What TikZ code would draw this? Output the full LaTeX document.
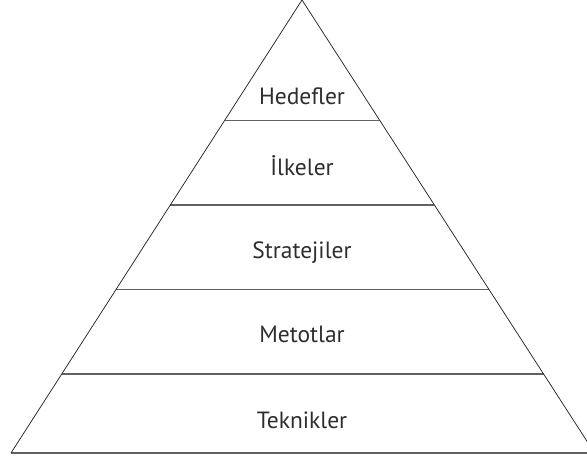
\documentclass[tikz,border=0pt]{standalone}
\usepackage{fontspec}
\setmainfont{PT Sans}
\usetikzlibrary{calc}
\begin{document}
\begin{tikzpicture}[x=1pt,y=1pt,
  side/.style={draw=black!85,line width=0.75pt},
  tier/.style={draw=black!62,line width=1.1pt},
  label/.style={anchor=base,font=\fontsize{23.5}{28}\selectfont,text=black!82,inner sep=0pt}]
\useasboundingbox (0,0) rectangle (587,459);
\clip (0,0) rectangle (587,459);
\coordinate (apex) at (302,459);
\coordinate (bl) at (11,6);
\coordinate (br) at (594.6,6);
\foreach \n/\t in {a/0.266,b/0.4525,c/0.639,d/0.8256}{
  \coordinate (l\n) at ($(apex)!\t!(bl)$);
  \coordinate (r\n) at ($(apex)!\t!(br)$);
}
\draw[tier] (la) -- (ra);
\draw[tier] (lb) -- (rb);
\draw[tier] (lc) -- (rc);
\draw[tier] (ld) -- (rd);
\draw[tier] (bl) -- (br);
\draw[side] (bl) -- (apex) -- (br);
\node[label] (hedefler) at (302,355) {Hedefler};
\node[label] (ilkeler) at (302,283.3) {İlkeler};
\node[label] (stratejiler) at (302,200.7) {Stratejiler};
\node[label] (metotlar) at (302,116.2) {Metotlar};
\node[label] (teknikler) at (302,31) {Teknikler};
\end{tikzpicture}
\end{document}
